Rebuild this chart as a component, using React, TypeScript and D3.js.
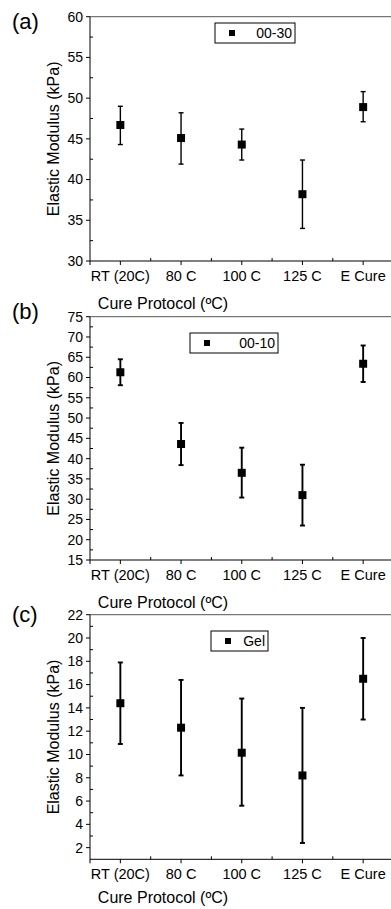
import React from "react";
import * as d3 from "d3";

const categories = ["RT (20C)", "80 C", "100 C", "125 C", "E Cure"];

const meanA = [46.7, 45.1, 44.3, 38.2, 48.9];
const upA = [49.0, 48.2, 46.2, 42.4, 50.8];
const lowA = [44.3, 41.9, 42.4, 34.0, 47.1];
const ticksA = [30, 35, 40, 45, 50, 55, 60];

const meanB = [61.3, 43.6, 36.5, 31.0, 63.4];
const upB = [64.5, 48.8, 42.7, 38.5, 67.9];
const lowB = [58.1, 38.4, 30.4, 23.5, 58.9];
const ticksB = [15, 20, 25, 30, 35, 40, 45, 50, 55, 60, 65, 70, 75];

const meanC = [14.4, 12.3, 10.15, 8.2, 16.5];
const upC = [17.9, 16.4, 14.8, 14.0, 20.0];
const lowC = [10.9, 8.2, 5.6, 2.4, 13.0];
const ticksC = [2, 4, 6, 8, 10, 12, 14, 16, 18, 20, 22];

const legendNames = ["00-30", "00-10", "Gel"];
const panelLetters = ["(a)", "(b)", "(c)"];

const FONT = "Liberation Sans, Arial, sans-serif";

type PanelProps = {
  top: number;
  bottom: number;
  domain: [number, number];
  ticks: number[];
  mean: number[];
  up: number[];
  low: number[];
  legend: string;
  legendBox: [number, number, number, number];
  letter: string;
  letterY: number;
  barWidth: number;
  titleY: number;
};

function Panel(p: PanelProps) {
  const x = d3.scaleLinear().domain([0.5, 5.5]).range([90, 393.5]);
  const y = d3.scaleLinear().domain(p.domain).range([p.bottom, p.top]);
  const left = x(0.5);
  const right = x(5.5);
  const majorX = d3.range(1, 6);
  const minorX = d3.range(1.5, 5.6, 1);
  const minorY: number[] = [];
  for (let i = 0; i < p.ticks.length - 1; i++) minorY.push((p.ticks[i] + p.ticks[i + 1]) / 2);
  const [lx, ly, lw, lh] = p.legendBox;
  const plotMid = (p.top + p.bottom) / 2;
  return (
    <g>
      <text x={12} y={p.letterY} fontSize={22} fontFamily={FONT} fill="#000">{p.letter}</text>
      <line x1={left} x2={right} y1={p.top} y2={p.top} stroke="#555" strokeWidth={1} />
      <line x1={left} x2={left} y1={p.top} y2={p.bottom + 4} stroke="#000" strokeWidth={1} />
      {p.ticks.map((t) => (
        <g key={"yt" + t}>
          <line x1={left - 4} x2={left} y1={y(t)} y2={y(t)} stroke="#000" />
          <text x={left - 7} y={y(t)} dy="0.35em" textAnchor="end" fontSize={14} fontFamily={FONT} fill="#000">{t}</text>
        </g>
      ))}
      {minorY.map((t) => (
        <line key={"ym" + t} x1={left} x2={left + 3} y1={y(t)} y2={y(t)} stroke="#000" />
      ))}
      <line x1={left} x2={right} y1={p.bottom} y2={p.bottom} stroke="#000" strokeWidth={1} />
      {majorX.map((c, i) => (
        <g key={"xt" + c}>
          <line x1={x(c)} x2={x(c)} y1={p.bottom} y2={p.bottom + 4} stroke="#000" />
          <text x={x(c)} y={p.bottom + 20} textAnchor="middle" fontSize={14.5} fontFamily={FONT} fill="#000">{categories[i]}</text>
        </g>
      ))}
      {minorX.map((c) => (
        <line key={"xm" + c} x1={x(c)} x2={x(c)} y1={p.bottom} y2={p.bottom - 3} stroke="#000" />
      ))}
      <text x={163} y={p.titleY} textAnchor="middle" fontSize={16} fontFamily={FONT} fill="#000">
        Cure Protocol (ºC)
      </text>
      <text transform={`translate(58.5,${plotMid}) rotate(-90)`} textAnchor="middle" fontSize={16} fontFamily={FONT} fill="#000">
        Elastic Modulus (kPa)
      </text>
      {p.mean.map((m, i) => {
        const cx = x(i + 1);
        return (
          <g key={"d" + i}>
            <line x1={cx} x2={cx} y1={y(p.up[i])} y2={y(p.low[i])} stroke="#000" strokeWidth={p.barWidth} />
            <line x1={cx - 2.5} x2={cx + 2.5} y1={y(p.up[i])} y2={y(p.up[i])} stroke="#000" strokeWidth={p.barWidth} />
            <line x1={cx - 2.5} x2={cx + 2.5} y1={y(p.low[i])} y2={y(p.low[i])} stroke="#000" strokeWidth={p.barWidth} />
            <rect x={cx - 4} y={y(m) - 4} width={8} height={8} fill="#000" />
          </g>
        );
      })}
      <rect x={lx} y={ly} width={lw} height={lh} fill="#fff" stroke="#000" strokeWidth={1} />
      <rect x={lx + 14} y={ly + lh / 2 - 3} width={6} height={6} fill="#000" />
      <text x={lx + lw - 3} y={ly + lh / 2} dy="0.36em" textAnchor="end" fontSize={14} fontFamily={FONT} fill="#000">
        {p.legend}
      </text>
    </g>
  );
}

export default function App() {
  return (
    <svg
      width={391}
      height={909}
      style={{ position: "absolute", left: 0, top: 0, background: "#fff" }}
    >
      <rect x={0} y={0} width={391} height={909} fill="#fff" />
      <Panel top={16.7} bottom={261} domain={[30, 60]} ticks={ticksA} mean={meanA} up={upA} low={lowA}
        legend={legendNames[0]} legendBox={[215, 23, 80, 20]} letter={panelLetters[0]} letterY={29} barWidth={1.4} titleY={309} />
      <Panel top={316.7} bottom={560} domain={[15, 75]} ticks={ticksB} mean={meanB} up={upB} low={lowB}
        legend={legendNames[1]} legendBox={[190, 333, 88, 20]} letter={panelLetters[1]} letterY={319} barWidth={1.9} titleY={608} />
      <Panel top={614.7} bottom={859.3} domain={[1, 22]} ticks={ticksC} mean={meanC} up={upC} low={lowC}
        legend={legendNames[2]} legendBox={[211, 631, 57, 20]} letter={panelLetters[2]} letterY={622} barWidth={1.9} titleY={903} />
    </svg>
  );
}
